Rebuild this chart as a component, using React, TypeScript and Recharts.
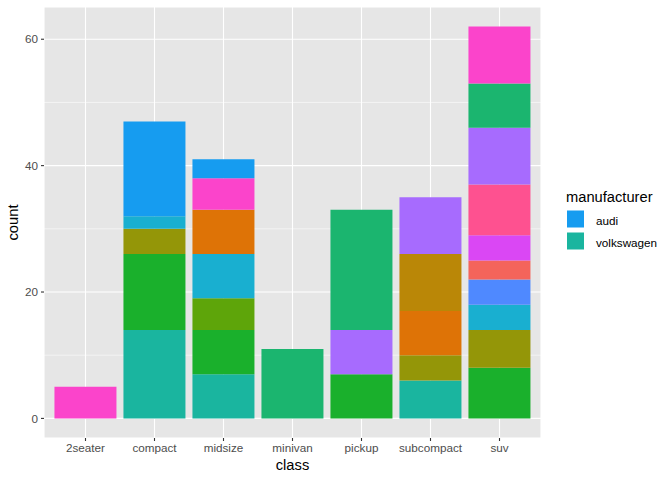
import React from 'react';
import { BarChart, Bar, XAxis, YAxis, CartesianGrid } from 'recharts';

const classes = ['2seater', 'compact', 'midsize', 'minivan', 'pickup', 'subcompact', 'suv'];

// counts per class, in the order of `classes`
const audi = [0, 15, 3, 0, 0, 0, 0];
const chevrolet = [5, 0, 5, 0, 0, 0, 9];
const dodge = [0, 0, 0, 11, 19, 0, 7];
const ford = [0, 0, 0, 0, 7, 9, 9];
const honda = [0, 0, 0, 0, 0, 9, 0];
const hyundai = [0, 0, 7, 0, 0, 7, 0];
const jeep = [0, 0, 0, 0, 0, 0, 8];
const landRover = [0, 0, 0, 0, 0, 0, 4];
const lincoln = [0, 0, 0, 0, 0, 0, 3];
const mercury = [0, 0, 0, 0, 0, 0, 4];
const nissan = [0, 2, 7, 0, 0, 0, 4];
const pontiac = [0, 0, 5, 0, 0, 0, 0];
const subaru = [0, 4, 0, 0, 0, 4, 6];
const toyota = [0, 12, 7, 0, 7, 0, 8];
const volkswagen = [0, 14, 7, 0, 0, 6, 0];

const yTicks = [0, 20, 40, 60];
const minorTicks = [10, 30, 50];
const legendItems = ['audi', 'volkswagen'];
const Y_MIN = -3.1;
const Y_MAX = 65.1;

// bottom-to-top stacking order
const series: { name: string; values: number[]; color: string }[] = [
  { name: 'volkswagen', values: volkswagen, color: '#1AB59F' },
  { name: 'toyota', values: toyota, color: '#1AB02C' },
  { name: 'subaru', values: subaru, color: '#949608' },
  { name: 'pontiac', values: pontiac, color: '#5EA50A' },
  { name: 'nissan', values: nissan, color: '#19AFD0' },
  { name: 'mercury', values: mercury, color: '#4F89FF' },
  { name: 'lincoln', values: lincoln, color: '#F4645B' },
  { name: 'land rover', values: landRover, color: '#DA47F4' },
  { name: 'jeep', values: jeep, color: '#FE5190' },
  { name: 'hyundai', values: hyundai, color: '#DE7306' },
  { name: 'honda', values: honda, color: '#BA8707' },
  { name: 'ford', values: ford, color: '#A76BFE' },
  { name: 'dodge', values: dodge, color: '#1BB56F' },
  { name: 'chevrolet', values: chevrolet, color: '#FB44CB' },
  { name: 'audi', values: audi, color: '#169CF0' },
];

const data = classes.map((c, i) => {
  const row: Record<string, string | number> = { class: c };
  series.forEach((s) => {
    row[s.name] = s.values[i];
  });
  return row;
});

const colorOf = (n: string) => series.find((s) => s.name === n)!.color;

const FONT = '"Liberation Sans", Arial, Helvetica, sans-serif';

const LegendBox = () => (
  <svg width={110} height={80} style={{ position: 'absolute', left: 550, top: 180, fontFamily: FONT }}>
    <text x={16} y={21.5} fontSize={14.7} fill="#000">manufacturer</text>
    {legendItems.map((n, i) => (
      <g key={n}>
        <rect x={17} y={30.5 + i * 22} width={17} height={17} fill={colorOf(n)} />
        <text x={46} y={44.5 + i * 22} fontSize={11.7} fill="#000">{n}</text>
      </g>
    ))}
  </svg>
);

const minorGen = (props: any) => {
  const off = props.offset || {};
  const top = off.top ?? 7;
  const h = off.height ?? 431;
  return minorTicks.map((t) => top + ((Y_MAX - t) / (Y_MAX - Y_MIN)) * h);
};

export default function App() {
  return (
    <div style={{ position: 'absolute', left: 0, top: 0, width: 672, height: 480, background: '#fff', fontFamily: FONT }}>
      <BarChart
        width={672}
        height={480}
        data={data}
        margin={{ top: 7, right: 131, bottom: 0, left: 0 }}
        barCategoryGap="5%"
      >
        <CartesianGrid fill="#E6E6E6" stroke="#FFFFFF" strokeWidth={1.1} />
        <CartesianGrid
          vertical={false}
          stroke="#FFFFFF"
          strokeWidth={0.55}
          horizontalCoordinatesGenerator={minorGen}
        />
        <XAxis
          dataKey="class"
          type="category"
          padding={{ left: 7, right: 7 }}
          height={42}
          axisLine={false}
          tickLine={{ stroke: '#333333', strokeWidth: 1.1 }}
          tickSize={3}
          tickMargin={3}
          tick={{ fill: '#4D4D4D', fontSize: 11.7, fontFamily: FONT }}
          interval={0}
          label={{ value: 'class', position: 'insideBottom', offset: 10, fill: '#000', fontSize: 14.7, fontFamily: FONT }}
        />
        <YAxis
          type="number"
          domain={[Y_MIN, Y_MAX]}
          ticks={yTicks}
          width={44}
          axisLine={false}
          tickLine={{ stroke: '#333333', strokeWidth: 1.1 }}
          tickSize={3}
          tickMargin={3}
          tick={{ fill: '#4D4D4D', fontSize: 11.7, fontFamily: FONT }}
          allowDataOverflow
          label={() => (
            <text
              x={17.5}
              y={222.5}
              transform="rotate(-90, 17.5, 222.5)"
              textAnchor="middle"
              fontSize={14.7}
              fill="#000"
              style={{ fontFamily: FONT }}
            >
              count
            </text>
          )}
        />
        {series.map((s) => (
          <Bar key={s.name} dataKey={s.name} stackId="a" fill={s.color} isAnimationActive={false} />
        ))}
      </BarChart>
      <LegendBox />
    </div>
  );
}
